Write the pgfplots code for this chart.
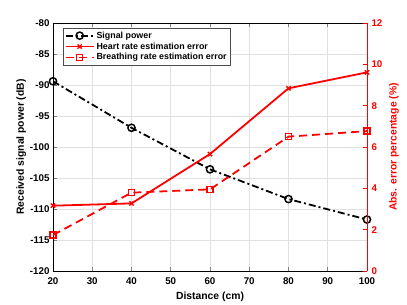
\documentclass[border=0pt]{standalone}
\usepackage{fontspec}
\setmainfont{Liberation Sans}
\usepackage{pgfplots}
\pgfplotsset{compat=1.18}
\definecolor{gridgray}{gray}{0.88}
\begin{document}
\begin{tikzpicture}
\useasboundingbox (-53bp,-34bp) rectangle (354bp,271bp);
\pgfplotsset{every axis/.append style={scale only axis, width=314bp, height=248bp,
  xmin=20, xmax=100,
  font=\fontsize{9.8}{11}\selectfont\bfseries,
  /pgf/number format/assume math mode=true,
  tick align=inside, major tick length=4bp,
  tick style={line width=0.5pt},
  label style={font=\fontsize{10.4}{12}\selectfont\bfseries},
  legend image code/.code={\draw[mark repeat=2,mark phase=2] plot coordinates {(0bp,0bp) (14bp,0bp) (28bp,0bp)};}}}
\begin{axis}[
  axis y line*=left, axis x line*=box,
  ymin=-120, ymax=-80, ytick={-120,-115,...,-80},
  xtick={20,30,...,100},
  grid=major, major grid style={gridgray, line width=0.5pt},
  xlabel={Distance (cm)}, ylabel={Received signal power (dB)},
  xticklabel style={yshift=-3bp},
  xlabel style={yshift=-1bp}, ylabel style={yshift=-3bp},
  axis line style={line width=0.6pt},
]
\addplot[black, dash pattern=on 7bp off 3bp on 2bp off 3bp, line width=1.8pt, mark=o, mark size=3.6bp, mark options={solid, line width=1.5pt}]
  coordinates {(20,-89.4) (40,-96.9) (60,-103.6) (80,-108.4) (100,-111.7)};
\end{axis}
\begin{axis}[
  axis y line*=right, axis x line=none,
  ymin=0, ymax=12, ytick={0,2,...,12},
  y axis line style={red, line width=0.6pt},
  yticklabel style={red, xshift=1bp},
  ytick style={red},
  ylabel={Abs. error percentage (\%)},
  ylabel style={red},
  legend style={at={(0.032,0.98)}, anchor=north west, font=\fontsize{8.9}{10}\selectfont\bfseries,
    draw=black!70, line width=0.5pt, inner sep=1.5bp, row sep=-1bp},
  legend cell align=left,
]
\addlegendimage{black, dash pattern=on 7bp off 3bp on 2bp off 3bp, line width=1.8pt, mark=o, mark size=3.6bp, mark options={solid, line width=1.5pt}}
\addlegendentry{Signal power}
\addplot[red, solid, line width=1.8pt, mark=x, mark size=3bp, mark options={solid, line width=1.4pt}]
  coordinates {(20,3.16) (40,3.27) (60,5.66) (80,8.84) (100,9.61)};
\addlegendentry{Heart rate estimation error}
\addplot[red, dash pattern=on 8bp off 5bp, line width=1.8pt, mark=square, mark size=3bp, mark options={solid, line width=1.4pt}]
  coordinates {(20,1.74) (40,3.79) (60,3.95) (80,6.5) (100,6.77)};
\addlegendentry{Breathing rate estimation error}
\end{axis}
\end{tikzpicture}
\end{document}
